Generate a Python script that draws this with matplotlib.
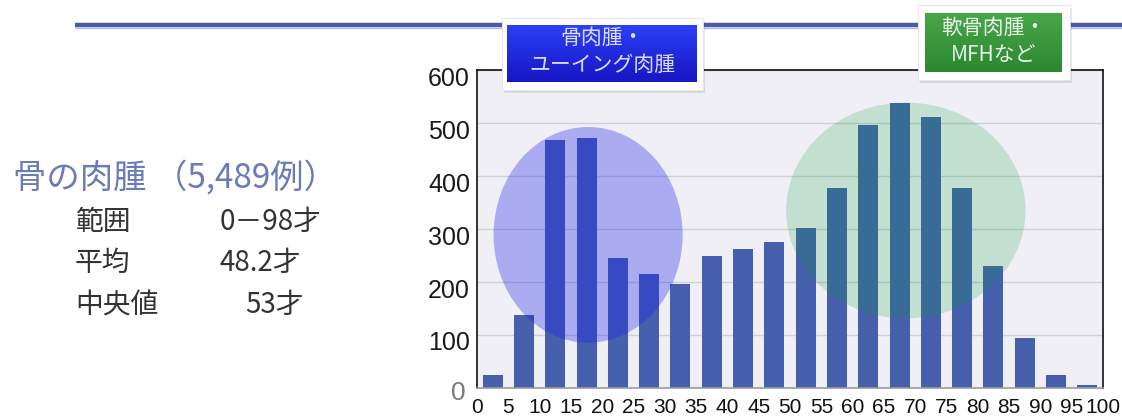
import numpy as np
import matplotlib
matplotlib.use("Agg")
import matplotlib.pyplot as plt
from matplotlib.patches import Ellipse, Rectangle
from matplotlib.transforms import ScaledTranslation

# ---------------- data ----------------
AGE_GROUP_START = [0, 5, 10, 15, 20, 25, 30, 35, 40, 45,
                   50, 55, 60, 65, 70, 75, 80, 85, 90, 95]
CASE_COUNTS = [25, 138, 468, 471, 245, 216, 196, 250, 262, 276,
               301, 378, 496, 537, 511, 378, 230, 95, 25, 6]
AGE_TICK_LABELS = ['0', '5', '10', '15', '20', '25', '30', '35', '40', '45', '50',
                   '55', '60', '65', '70', '75', '80', '85', '90', '95', '100']
Y_TICKS = [100, 200, 300, 400, 500, 600]

SUMMARY_TITLE = '骨の肉腫 （5,489例）'
SUMMARY_KEYS = ['範囲', '平均', '中央値']
SUMMARY_VALUES = ['0－98才', '48.2才', '53才']

BOX1_LINES = ['骨肉腫・', 'ユーイング肉腫']
BOX2_LINES = ['軟骨肉腫・', 'MFHなど']

CJK = ['Noto Sans CJK JP', 'DejaVu Sans']
LAT = ['Liberation Sans', 'DejaVu Sans']

W, H = 1122, 420
fig = plt.figure(figsize=(W / 100, H / 100), dpi=100)
fig.patch.set_facecolor('white')

# ---------------- main chart ----------------
ax = fig.add_axes([477 / W, 1 - 388 / H, (1103 - 477) / W, (388 - 70) / H])
x = np.arange(len(AGE_GROUP_START))
ax.bar(x, CASE_COUNTS, width=0.64, color='#4660ae', zorder=2)
ax.set_xlim(-0.5, len(x) - 0.5)
ax.set_ylim(0, 600)
ax.set_facecolor('#efeff5')
ax.yaxis.grid(True, color='#d0d0d8', lw=1.0)
ax.set_axisbelow(True)

for s in ['left', 'top', 'right']:
    ax.spines[s].set_color('#111111')
    ax.spines[s].set_linewidth(1.2)
ax.spines['bottom'].set_color('#9a9aa2')
ax.spines['bottom'].set_linewidth(1.2)

ax.set_yticks(Y_TICKS)
ax.set_yticklabels([str(v) for v in Y_TICKS], fontsize=18, color='#1a1a1a', family=LAT)
ax.tick_params(axis='y', length=0, pad=5)
for lab in ax.get_yticklabels():
    lab.set_transform(lab.get_transform() + ScaledTranslation(0, -0.06, fig.dpi_scale_trans))

ax.set_xticks(np.arange(len(AGE_TICK_LABELS)) - 0.5)
ax.set_xticklabels(AGE_TICK_LABELS, fontsize=15, color='#111111', family=LAT)
ax.tick_params(axis='x', length=0, pad=7)

# highlight ellipses
ax.add_patch(Ellipse((3.05, 289), 6.04, 407, facecolor=(0.11, 0.11, 0.92),
                     alpha=0.32, lw=0, zorder=3))
ax.add_patch(Ellipse((13.2, 335), 7.65, 407, facecolor=(0.0, 0.62, 0.2),
                     alpha=0.19, lw=0, zorder=3))

# ---------------- overlay (pixel coordinates) ----------------
ov = fig.add_axes([0, 0, 1, 1], zorder=5)
ov.set_xlim(0, W)
ov.set_ylim(H, 0)
ov.axis('off')
ov.patch.set_alpha(0)

# header rule
ov.plot([75, W], [25, 25], color='#4b5ba9', lw=3.2, solid_capstyle='butt', zorder=1)
ov.plot([75, W], [28, 28], color='#b4bade', lw=1.0, solid_capstyle='butt', zorder=1)

# zero label
ov.text(458, 393, '0', ha='center', va='center', fontsize=19, color='#7a7a7a', family=LAT)


def label_box(x0, y0, x1, y1, ix0, iy0, ix1, iy1, top, bottom, lines, ys, tcolor):
    ov.add_patch(Rectangle((x0 + 2, y0 + 3), x1 - x0, y1 - y0, facecolor='#00000018',
                           lw=0, zorder=2))
    ov.add_patch(Rectangle((x0, y0), x1 - x0, y1 - y0, facecolor='white',
                           edgecolor='#e4e4e8', lw=0.6, zorder=3))
    t = np.array(top) / 255.0
    b = np.array(bottom) / 255.0
    f = np.linspace(0, 1, 64)[:, None, None]
    grad = t * (1 - f) + b * f
    ov.imshow(grad, extent=(ix0, ix1, iy1, iy0), aspect='auto', zorder=4,
              interpolation='bilinear')
    cx = (ix0 + ix1) / 2
    for line, yy in zip(lines, ys):
        ov.text(cx, yy, line, ha='center', va='center', fontsize=15,
                color=tcolor, family=CJK, zorder=5)


label_box(502, 18, 703, 90, 507, 25, 697, 82, (44, 64, 246), (22, 22, 196),
          BOX1_LINES, [38, 65], '#dcdcff')
label_box(918, 5, 1070, 80, 925, 13, 1062, 72, (72, 166, 72), (44, 136, 48),
          BOX2_LINES, [28, 55], '#e8f5e8')
ov.set_xlim(0, W)
ov.set_ylim(H, 0)

# summary text
ov.text(13, 178, SUMMARY_TITLE, ha='left', va='center', fontsize=24,
        color='#6b7bb8', family=CJK)
for key, val, yy, vx in zip(SUMMARY_KEYS, SUMMARY_VALUES, [222, 263, 305], [220, 220, 245]):
    ov.text(75, yy, key, ha='left', va='center', fontsize=20, color='#333333', family=CJK)
    ov.text(vx, yy, val, ha='left', va='center', fontsize=20, color='#333333', family=CJK)

fig.savefig('out.png', dpi=100)
